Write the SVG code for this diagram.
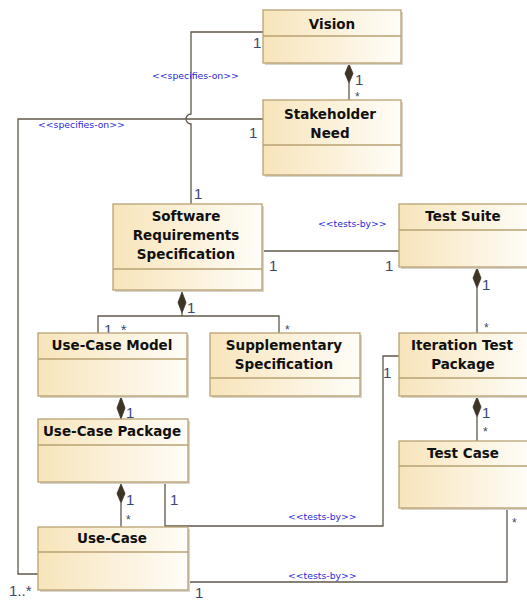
<svg xmlns="http://www.w3.org/2000/svg" width="527" height="601" viewBox="0 0 527 601">
  <defs>
    <linearGradient id="classFill" x1="0" y1="0" x2="1" y2="0">
      <stop offset="0" stop-color="#f7e4ba"/>
      <stop offset="1" stop-color="#fffdf8"/>
    </linearGradient>
    <style>
      .box { fill: url(#classFill); stroke: #b9a273; stroke-width: 1.3; }
      .shadow { fill: #d8d4cc; }
      .sep { stroke: #b9a273; stroke-width: 1.3; }
      .title { font-family: "DejaVu Sans", sans-serif; font-weight: bold; font-size: 13.5px; fill: #111; text-anchor: middle; }
      .wire { fill: none; stroke: #5f574a; stroke-width: 1.3; }
      .diamond { fill: #3d3424; stroke: #3d3424; stroke-width: 0.8; }
      .mult { font-family: "Liberation Sans", Arial, sans-serif; font-size: 15px; fill: #3a4870; }
      .star { font-family: "Liberation Sans", Arial, sans-serif; font-size: 12px; fill: #3a4870; }
      .stereo { font-family: "DejaVu Sans", sans-serif; font-size: 9.3px; fill: #2a2ad8; }
    </style>
  </defs>

  <!-- associations and compositions -->
  <g id="connectors">
    <!-- Vision to SRS, hopping over the Stakeholder Need line -->
    <path class="wire" d="M263,32 H191 V114 A5,5 0 0 0 191,124 V204"/>
    <!-- Stakeholder Need to Use-Case -->
    <path class="wire" d="M263,119 H18 V574 H38"/>
    <!-- Vision composes Stakeholder Need -->
    <path class="wire" d="M349,83 V100"/>
    <polygon class="diamond" points="349,64 353,73.5 349,83 345,73.5"/>
    <!-- SRS to Test Suite -->
    <path class="wire" d="M262,251 H399"/>
    <!-- SRS composes Use-Case Model and Supplementary Specification -->
    <path class="wire" d="M182,313 V316 M98,333 V316 H279 V333"/>
    <polygon class="diamond" points="182,292 186,302.5 182,313 178,302.5"/>
    <!-- Use-Case Model composes Use-Case Package -->
    <polygon class="diamond" points="121,397 125,408 121,419 117,408"/>
    <!-- Use-Case Package composes Use-Case -->
    <path class="wire" d="M121,503 V527"/>
    <polygon class="diamond" points="121,484 125,493.5 121,503 117,493.5"/>
    <!-- Test Suite composes Iteration Test Package -->
    <path class="wire" d="M477,288 V333"/>
    <polygon class="diamond" points="477,268 481,278 477,288 473,278"/>
    <!-- Iteration Test Package composes Test Case -->
    <path class="wire" d="M477,417 V441"/>
    <polygon class="diamond" points="477,397 481,407 477,417 473,407"/>
    <!-- Use-Case Package to Iteration Test Package -->
    <path class="wire" d="M165,483 V526 H383 V356 H399"/>
    <!-- Use-Case to Test Case -->
    <path class="wire" d="M188,582 H507 V509"/>

    <!-- stereotypes -->
    <text class="stereo" x="152" y="79">&lt;&lt;specifies-on&gt;&gt;</text>
    <text class="stereo" x="38" y="128">&lt;&lt;specifies-on&gt;&gt;</text>
    <text class="stereo" x="318" y="227">&lt;&lt;tests-by&gt;&gt;</text>
    <text class="stereo" x="288" y="520">&lt;&lt;tests-by&gt;&gt;</text>
    <text class="stereo" x="288" y="579">&lt;&lt;tests-by&gt;&gt;</text>

    <!-- multiplicities -->
    <text class="mult" x="253" y="48">1</text>
    <text class="mult" x="249" y="138">1</text>
    <text class="mult" x="194" y="199">1</text>
    <text class="mult" x="355" y="85">1</text>
    <text class="star" x="355" y="101">*</text>
    <text class="mult" x="269" y="271">1</text>
    <text class="mult" x="385" y="271">1</text>
    <text class="mult" x="187" y="313">1</text>
    <text class="mult" x="104" y="335">1..*</text>
    <text class="star" x="285" y="334">*</text>
    <text class="mult" x="482" y="290">1</text>
    <text class="star" x="484" y="332">*</text>
    <text class="mult" x="126" y="418">1</text>
    <text class="mult" x="126" y="505">1</text>
    <text class="star" x="126" y="524">*</text>
    <text class="mult" x="170" y="505">1</text>
    <text class="mult" x="383" y="378">1</text>
    <text class="mult" x="482" y="418">1</text>
    <text class="star" x="483" y="436">*</text>
    <text class="star" x="512" y="527">*</text>
    <text class="mult" x="195" y="598">1</text>
    <text class="mult" x="9" y="596">1..*</text>
  </g>

  <g id="vision">
    <rect class="shadow" x="265" y="12" width="138" height="53"/>
    <rect class="box" x="263" y="10" width="138" height="53"/>
    <line class="sep" x1="263" y1="36" x2="401" y2="36"/>
    <text class="title" x="332" y="29">Vision</text>
  </g>

  <g id="stakeholder-need">
    <rect class="shadow" x="265" y="102" width="138" height="75"/>
    <rect class="box" x="263" y="100" width="138" height="75"/>
    <line class="sep" x1="263" y1="145" x2="401" y2="145"/>
    <text class="title" x="330" y="119">Stakeholder</text>
    <text class="title" x="330" y="138">Need</text>
  </g>

  <g id="software-requirements-specification">
    <rect class="shadow" x="115" y="206" width="149" height="86"/>
    <rect class="box" x="113" y="204" width="149" height="86"/>
    <line class="sep" x1="113" y1="269" x2="262" y2="269"/>
    <text class="title" x="186" y="221">Software</text>
    <text class="title" x="186" y="240">Requirements</text>
    <text class="title" x="186" y="259">Specification</text>
  </g>

  <g id="test-suite">
    <rect class="shadow" x="401" y="206" width="130" height="63"/>
    <rect class="box" x="399" y="204" width="131" height="63"/>
    <line class="sep" x1="399" y1="230" x2="530" y2="230"/>
    <text class="title" x="463" y="221">Test Suite</text>
  </g>

  <g id="use-case-model">
    <rect class="shadow" x="40" y="335" width="149" height="63"/>
    <rect class="box" x="38" y="333" width="149" height="63"/>
    <line class="sep" x1="38" y1="359" x2="187" y2="359"/>
    <text class="title" x="112" y="350">Use-Case Model</text>
  </g>

  <g id="supplementary-specification">
    <rect class="shadow" x="212" y="335" width="150" height="63"/>
    <rect class="box" x="210" y="333" width="150" height="63"/>
    <line class="sep" x1="210" y1="378" x2="360" y2="378"/>
    <text class="title" x="284" y="350">Supplementary</text>
    <text class="title" x="284" y="369">Specification</text>
  </g>

  <g id="iteration-test-package">
    <rect class="shadow" x="401" y="335" width="130" height="63"/>
    <rect class="box" x="399" y="333" width="131" height="63"/>
    <line class="sep" x1="399" y1="378" x2="530" y2="378"/>
    <text class="title" x="462" y="350">Iteration Test</text>
    <text class="title" x="463" y="369">Package</text>
  </g>

  <g id="use-case-package">
    <rect class="shadow" x="40" y="421" width="150" height="63"/>
    <rect class="box" x="38" y="419" width="150" height="63"/>
    <line class="sep" x1="38" y1="445" x2="188" y2="445"/>
    <text class="title" x="112" y="436">Use-Case Package</text>
  </g>

  <g id="test-case">
    <rect class="shadow" x="401" y="443" width="130" height="67"/>
    <rect class="box" x="399" y="441" width="131" height="67"/>
    <line class="sep" x1="399" y1="466" x2="530" y2="466"/>
    <text class="title" x="463" y="458">Test Case</text>
  </g>

  <g id="use-case">
    <rect class="shadow" x="40" y="529" width="150" height="63"/>
    <rect class="box" x="38" y="527" width="150" height="63"/>
    <line class="sep" x1="38" y1="552" x2="188" y2="552"/>
    <text class="title" x="112" y="543">Use-Case</text>
  </g>
</svg>
